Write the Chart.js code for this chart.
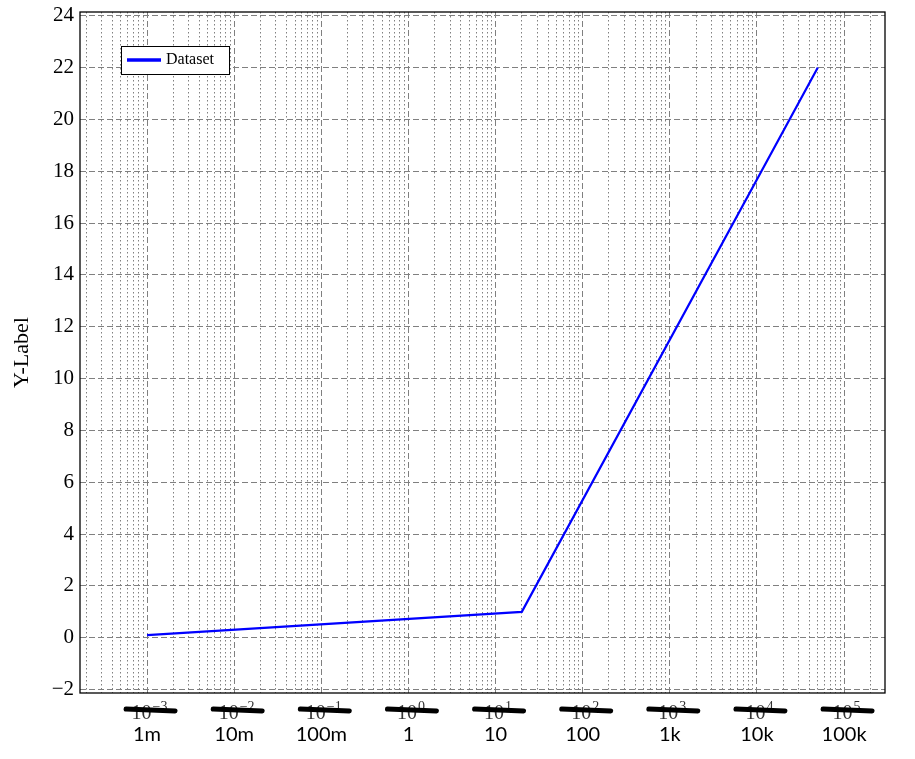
<!DOCTYPE html>
<html>
<head>
<meta charset="utf-8">
<script src="https://cdn.jsdelivr.net/npm/chart.js@4.4.1/dist/chart.umd.min.js"></script>
<style>
  html, body { margin: 0; padding: 0; background: #fff; }
  #wrap { width: 915px; height: 759px; }
</style>
</head>
<body>
<div id="wrap"><canvas id="chart"></canvas></div>
<script>
// values
const xValues = [0.001, 20, 50000];
const yValues = [0.1, 1.0, 22];
const seriesLabel = 'Dataset';

// tick labels
const decadeExps = [-3, -2, -1, 0, 1, 2, 3, 4, 5];
const siLabels = ['1m', '10m', '100m', '1', '10', '100', '1k', '10k', '100k'];
const expLabels = ['\u22123', '\u22122', '\u22121', '0', '1', '2', '3', '4', '5'];
const yTicks = [-2, 0, 2, 4, 6, 8, 10, 12, 14, 16, 18, 20, 22, 24];

const xMin = 1.7e-4, xMax = 2.95e5;
const yMin = -2.13, yMax = 24.14;

const serif = '"Liberation Serif", "DejaVu Serif", serif';
const gridGray = '#808080';

function isDecade(v) {
  const l = Math.log10(v);
  return Math.abs(l - Math.round(l)) < 1e-9;
}

// frame, legend and the crossed-out 10^n labels
const extras = {
  id: 'extras',
  afterDatasetsDraw(chart) {
    const ctx = chart.ctx;
    const a = chart.chartArea;
    const xs = chart.scales.x;
    ctx.save();

    // frame
    ctx.strokeStyle = '#000';
    ctx.lineWidth = 1.3;
    ctx.strokeRect(a.left, a.top, a.right - a.left, a.bottom - a.top);

    // legend box
    const lx = a.left + 41, ly = a.top + 34;
    ctx.fillStyle = '#fff';
    ctx.fillRect(lx, ly, 108, 28);
    ctx.lineWidth = 1;
    ctx.strokeRect(lx + 0.5, ly + 0.5, 108, 28);
    const ds = chart.data.datasets[0];
    ctx.strokeStyle = ds.borderColor;
    ctx.lineWidth = 3.5;
    ctx.beginPath();
    ctx.moveTo(lx + 6, ly + 14);
    ctx.lineTo(lx + 40, ly + 14);
    ctx.stroke();
    ctx.fillStyle = '#000';
    ctx.font = '16px ' + serif;
    ctx.textBaseline = 'middle';
    ctx.textAlign = 'left';
    ctx.fillText(ds.label, lx + 45, ly + 14);

    // 10^n labels, struck through
    ctx.textBaseline = 'alphabetic';
    decadeExps.forEach((e, i) => {
      const px = xs.getPixelForValue(Math.pow(10, e));
      ctx.font = '20px ' + serif;
      const w1 = ctx.measureText('10').width;
      ctx.font = '14px ' + serif;
      const w2 = ctx.measureText(expLabels[i]).width;
      const x0 = px - (w1 + w2) / 2 + 2;
      ctx.fillStyle = '#333';
      ctx.font = '20px ' + serif;
      ctx.fillText('10', x0, a.bottom + 26);
      ctx.font = '14px ' + serif;
      ctx.fillText(expLabels[i], x0 + w1 + 1, a.bottom + 18);

      ctx.strokeStyle = '#000';
      ctx.lineWidth = 5;
      ctx.lineCap = 'round';
      ctx.beginPath();
      ctx.moveTo(px - 21, a.bottom + 16);
      ctx.lineTo(px + 28, a.bottom + 18);
      ctx.stroke();
    });
    ctx.restore();
  }
};

new Chart(document.getElementById('chart'), {
  type: 'line',
  data: {
    datasets: [{
      label: seriesLabel,
      data: xValues.map((x, i) => ({ x: x, y: yValues[i] })),
      borderColor: '#0000ff',
      backgroundColor: '#0000ff',
      borderWidth: 2.2,
      pointRadius: 0,
      tension: 0,
      fill: false
    }]
  },
  options: {
    responsive: true,
    maintainAspectRatio: false,
    animation: false,
    layout: { padding: { left: 0, right: 30, top: 0, bottom: 0 } },
    plugins: {
      legend: { display: false },
      tooltip: { enabled: false }
    },
    scales: {
      x: {
        type: 'logarithmic',
        min: xMin,
        max: xMax,
        afterBuildTicks(scale) {
          const t = [];
          for (let e = -4; e <= 5; e++) {
            for (let n = 1; n <= 9; n++) {
              const v = Number((n * Math.pow(10, e)).toPrecision(6));
              if (v >= xMin && v <= xMax) t.push({ value: v, major: n === 1 });
            }
          }
          scale.ticks = t;
        },
        afterFit(scale) { scale.height = 66; },
        grid: {
          drawTicks: false,
          color: gridGray,
          lineWidth: 1
        },
        border: {
          display: false,
          dash: (ctx) => (ctx.tick && isDecade(ctx.tick.value)) ? [6, 3] : [1.5, 2.5]
        },
        ticks: {
          autoSkip: false,
          maxRotation: 0,
          minRotation: 0,
          padding: 30,
          color: '#000',
          font: { family: 'Lato', size: 20 },
          callback: (value) => {
            if (!isDecade(value)) return '';
            const idx = decadeExps.indexOf(Math.round(Math.log10(value)));
            return idx >= 0 ? siLabels[idx] : '';
          }
        }
      },
      y: {
        type: 'linear',
        min: yMin,
        max: yMax,
        afterBuildTicks(scale) {
          scale.ticks = yTicks.map(v => ({ value: v }));
        },
        afterFit(scale) {
          scale.width = 80;
          scale.paddingTop = 12;
        },
        grid: {
          drawTicks: false,
          color: gridGray,
          lineWidth: 1
        },
        border: { display: false, dash: [6, 3] },
        ticks: {
          padding: 6,
          color: '#000',
          font: { family: serif, size: 21, lineHeight: 1 },
          callback: (v) => (v < 0 ? '\u2212' + Math.abs(v) : String(v))
        },
        title: {
          display: true,
          text: 'Y-Label',
          color: '#000',
          font: { family: serif, size: 22 },
          padding: { top: 9, bottom: 0 }
        }
      }
    }
  },
  plugins: [extras]
});
</script>
</body>
</html>
